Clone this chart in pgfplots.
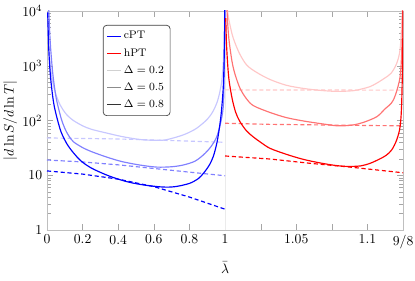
\documentclass[border=0pt]{standalone}
\usepackage{pgfplots}
\pgfplotsset{compat=1.18}
\begin{document}
\begin{tikzpicture}
\useasboundingbox (-34.3pt,-37.2pt) rectangle (268.6pt,167.9pt);
\begin{axis}[
  scale only axis, width=259.9pt, height=159.9pt,
  xmin=0, xmax=2, ymode=log, ymin=1, ymax=1e4,
  x filter/.expression={x<=1 ? x : 1+8*(x-1)},
  xtick={0,0.2,0.4,0.6,0.8,1,1.2,1.4,1.6,1.8,2},
  xticklabels={0,0.2,0.4,0.6,0.8,1,,1.05,,1.1,9/8},
  ytick={1,10,100,1000,10000},
  yticklabels={1,10,$10^2$,$10^3$,$10^4$},
  axis line style={black!25},
  tick style={black!35},
  xlabel={$\bar{\lambda}$},
  xlabel style={yshift=-3pt},
  ylabel={$|d\ln S/d\ln T|$},
  ylabel shift=-3pt,
  legend image code/.code={\draw[#1] (0cm,0cm) -- (0.34cm,0cm);},
  legend style={at={(0.157,0.936)}, anchor=north west, draw=black!75, rounded corners=2.5pt, line width=0.5pt, inner sep=2.5pt, row sep=1.5pt, font=\footnotesize},
  legend cell align=left,
  every axis plot/.append style={line width=0.85pt},
]
\addlegendimage{blue, line width=0.85pt}
\addlegendentry{cPT}
\addlegendimage{red, line width=0.85pt}
\addlegendentry{hPT}
\addlegendimage{black!18, line width=0.85pt}
\addlegendentry{$\Delta=0.2$}
\addlegendimage{black!45, line width=0.85pt}
\addlegendentry{$\Delta=0.5$}
\addlegendimage{black!80, line width=0.85pt}
\addlegendentry{$\Delta=0.8$}

\addplot[black!8, line width=0.4pt, forget plot] coordinates {(1,1) (1,10000)};

% cPT dashed
\addplot[blue!22, densely dashed, forget plot] coordinates {(0,48) (0.2,47) (0.4,46) (0.6,44) (0.8,42) (1,40)};
\addplot[blue!50, densely dashed, forget plot] coordinates {(0,19) (0.2,17.5) (0.4,15.5) (0.6,13.3) (0.8,11.4) (1,9.8)};
\addplot[blue, densely dashed, forget plot] coordinates {(0,12) (0.2,10.5) (0.4,8.5) (0.6,6.2) (0.8,4.0) (1,2.4)};

% hPT dashed
\addplot[red!22, densely dashed, forget plot] coordinates {(1,362) (1.125,358)};
\addplot[red!55, densely dashed, forget plot] coordinates {(1,89) (1.0316,85) (1.0667,83) (1.1,81) (1.125,80)};
\addplot[red, densely dashed, forget plot] coordinates {(1,22.5) (1.0316,19.8) (1.06,16.5) (1.0855,14.3) (1.125,11.1)};

% cPT solid
\addplot[blue!22, smooth, forget plot] coordinates {(0.005,5800) (0.01,2300) (0.02,930) (0.03,554) (0.037,427) (0.05,298) (0.074,192) (0.1,141) (0.12,119) (0.148,100) (0.2,80) (0.25,69) (0.335,59) (0.42,51) (0.52,45) (0.6,43.5) (0.66,44) (0.72,49) (0.78,57) (0.84,72) (0.9,105) (0.934,150) (0.96,240) (0.98,480) (0.99,1100) (0.995,3000) (0.998,10000) (0.9995,20000)};
\addplot[blue!50, smooth, forget plot] coordinates {(0.008,16000) (0.01,10800) (0.015,4250) (0.02,2200) (0.03,870) (0.04,454) (0.054,235) (0.08,108) (0.1,72) (0.12,54) (0.148,41) (0.2,32) (0.25,27) (0.335,21.5) (0.42,17.8) (0.52,15.4) (0.616,14.1) (0.7,14.3) (0.766,15.4) (0.83,18) (0.878,23.5) (0.92,33) (0.953,50) (0.975,90) (0.99,178) (0.995,600) (0.998,3000) (0.9995,20000)};
\addplot[blue, smooth, forget plot] coordinates {(0.004,9400) (0.01,1990) (0.02,617) (0.035,235) (0.05,134) (0.079,62) (0.12,34) (0.185,19) (0.25,13.5) (0.335,10.1) (0.4,8.5) (0.466,7.4) (0.55,6.6) (0.65,6.1) (0.72,6.2) (0.8,7.1) (0.85,8.7) (0.878,10.8) (0.91,15) (0.934,22) (0.955,40) (0.97,80) (0.98,150) (0.99,400) (0.995,1300) (0.998,6000) (0.9995,30000)};

% hPT solid
\addplot[red!22, smooth, forget plot] coordinates {(1.0005,30000) (1.002,9000) (1.004,4800) (1.0058,3170) (1.01,1700) (1.0152,1030) (1.022,760) (1.0316,560) (1.043,440) (1.055,385) (1.0667,355) (1.0785,340) (1.09,350) (1.0965,380) (1.1018,415) (1.1065,480) (1.1115,580) (1.1165,725) (1.1205,1100) (1.1229,2000) (1.1243,8000) (1.1249,30000)};
\addplot[red!55, smooth, forget plot] coordinates {(1.001,16500) (1.002,5190) (1.003,2640) (1.005,1157) (1.007,700) (1.0105,388) (1.015,250) (1.02,186) (1.0316,140) (1.043,113) (1.055,98) (1.0667,88) (1.0784,80) (1.083,80) (1.09,83) (1.097,92) (1.1065,117) (1.112,160) (1.1182,237) (1.1229,630) (1.1243,3000) (1.1249,20000)};
\addplot[red, smooth, forget plot] coordinates {(1.0005,7400) (1.001,2600) (1.002,930) (1.003,500) (1.005,250) (1.0075,140) (1.0105,95) (1.015,65) (1.0199,50) (1.025,40) (1.0316,31) (1.0433,24) (1.055,19.5) (1.0667,16.8) (1.0767,15.2) (1.0855,14.5) (1.095,14.8) (1.1018,16.5) (1.108,19.5) (1.113,23) (1.117,29) (1.1205,44) (1.1229,77) (1.124,200) (1.1247,1500) (1.12495,10000)};
\end{axis}
\end{tikzpicture}
\end{document}
